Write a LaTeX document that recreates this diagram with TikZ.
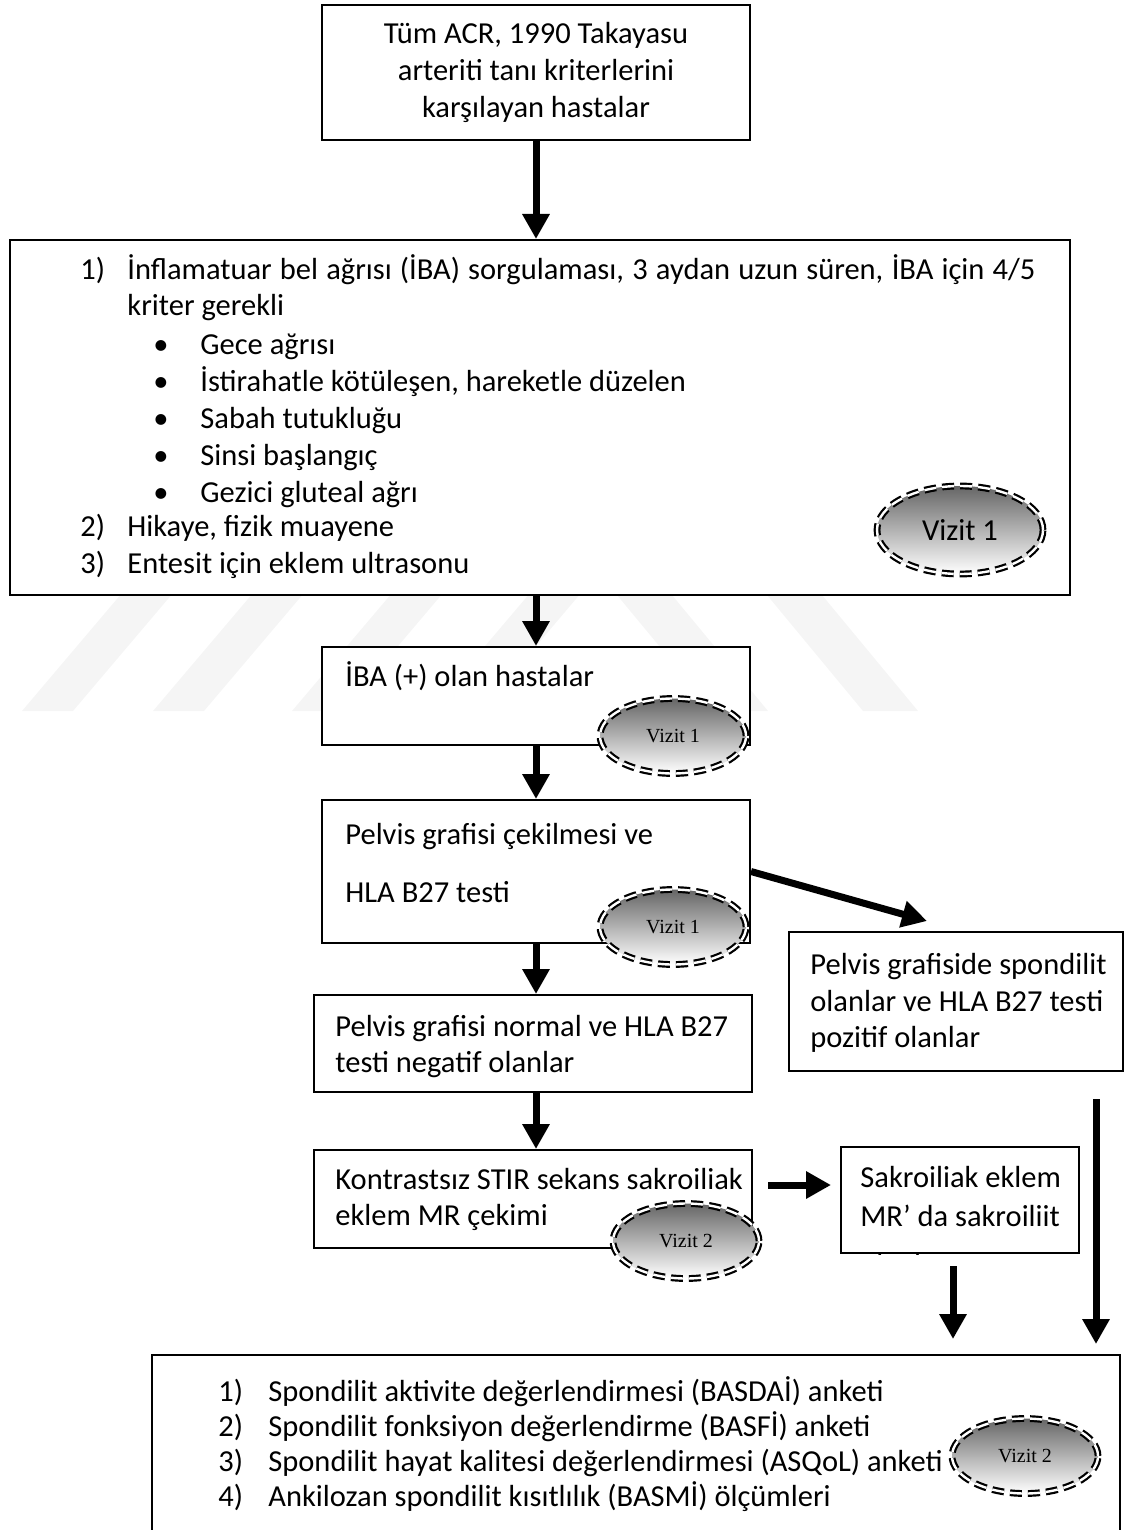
\documentclass[tikz,border=0pt]{standalone}
\usepackage{fontspec}
\setmainfont{Carlito}
\newfontfamily\timesfont{Liberation Serif}
\usetikzlibrary{arrows.meta,shapes.geometric}

\begin{document}
\begin{tikzpicture}[x=0.5pt,y=-0.5pt,
	font=\fontsize{15.25pt}{18.5pt}\selectfont,
	box/.style={draw,line width=1pt,fill=white,inner sep=0pt},
	txt/.style={anchor=base west,inner sep=0pt},
	bigarrow/.style={line width=3.5pt,-{Triangle[width=13pt,length=12.5pt]}},
	vizit/.style={ellipse,draw,double,double distance=1.2pt,line width=1.1pt,dash pattern=on 6pt off 3pt,
		top color=black!60,bottom color=white,inner sep=0pt,minimum width=73pt,minimum height=37.5pt,
		font=\timesfont\fontsize{10pt}{12pt}\selectfont}]
	\useasboundingbox (0,0) rectangle (1133,1530); % Fixes the page...

		% faint stripes behind the boxes
		\foreach \X in {22,153,292,430}{\fill[black!4] (\X,711) -- (\X+51,711) -- (\X+179,560) -- (\X+128,560) -- cycle;}
		\foreach \X in {713,863}{\fill[black!4] (\X,711) -- (\X+55,711) -- (\X-70,560) -- (\X-125,560) -- cycle;}

		\node[box,minimum width=214pt,minimum height=67.5pt,align=center] (TopBox) at (536,72.5) {Tüm ACR, 1990 Takayasu\\arteriti tanı kriterlerini\\karşılayan hastalar};
		\node[box,minimum width=530pt,minimum height=177.5pt] (CritBox) at (540,417.5) {};
		\node[box,minimum width=214pt,minimum height=49pt] (IbaBox) at (536,696) {};
		\node[box,minimum width=214pt,minimum height=71.5pt] (PelvisBox) at (536,871.5) {};
		\node[box,minimum width=167pt,minimum height=69.5pt] (SpondBox) at (956,1001.5) {};
		\node[box,minimum width=219pt,minimum height=48.5pt] (NormalBox) at (533,1043.5) {};
		\node[box,minimum width=219pt,minimum height=49pt] (MrBox) at (533,1199) {};
		\node[box,minimum width=119pt,minimum height=53pt] (SacroBox) at (960,1200) {};
		\node[box,minimum width=484pt,minimum height=95pt] (SurveyBox) at (636,1450) {};

		% criteria list
		\node[txt] (CritNo1) at (80,279) {1)};
		\node[txt] (Crit1) at (127,279) {\makebox[454pt][s]{İnflamatuar bel ağrısı (İBA) sorgulaması, 3 aydan uzun süren, İBA için 4/5}};
		\node[txt] (Crit1b) at (127,315) {kriter gerekli};
		\foreach \Item [count=\i] in {Gece ağrısı,{İstirahatle kötüleşen, hareketle düzelen},Sabah tutukluğu,Sinsi başlangıç,Gezici gluteal ağrı}{
			\node[txt] (Dot\i) at (153,317+37*\i) {\textbullet};
			\node[txt] (Sign\i) at (200,317+37*\i) {\Item};
		}
		\node[txt] (CritNo2) at (80,536) {2)};
		\node[txt] (Crit2) at (127,536) {Hikaye, fizik muayene};
		\node[txt] (CritNo3) at (80,573) {3)};
		\node[txt] (Crit3) at (127,573) {Entesit için eklem ultrasonu};

		% box texts
		\node[txt] (IbaText) at (345,686) {İBA (+) olan hastalar};
		\node[txt] (PelvisText1) at (345,844) {Pelvis grafisi çekilmesi ve};
		\node[txt] (PelvisText2) at (345,902) {HLA B27 testi};
		\node[txt] (SpondText1) at (810,974) {Pelvis grafiside spondilit};
		\node[txt] (SpondText2) at (810,1011) {olanlar ve HLA B27 testi};
		\node[txt] (SpondText3) at (810,1047) {pozitif olanlar};
		\node[txt] (NormalText1) at (335,1036) {Pelvis grafisi normal ve HLA B27};
		\node[txt] (NormalText2) at (335,1072) {testi negatif olanlar};
		\node[txt] (MrText1) at (335,1189) {Kontrastsız STIR sekans sakroiliak};
		\node[txt] (MrText2) at (335,1225) {eklem MR çekimi};
		\node[txt] (SacroText1) at (860,1187) {Sakroiliak eklem};
		\node[txt] (SacroText2) at (860,1226) {MR’ da sakroiliit};
		\begin{scope}
			\clip (SacroBox.north west) rectangle (SacroBox.south east);
			\node[txt] (SacroText3) at (860,1274) {olanlar};
		\end{scope}
		\foreach \Item [count=\i] in {Spondilit aktivite değerlendirmesi (BASDAİ) anketi,Spondilit fonksiyon değerlendirme (BASFİ) anketi,Spondilit hayat kalitesi değerlendirmesi (ASQoL) anketi,Ankilozan spondilit kısıtlılık (BASMİ) ölçümleri}{
			\node[txt] (SurveyNo\i) at (218,1366+35*\i) {\i)};
			\node[txt] (Survey\i) at (268,1366+35*\i) {\Item};
		}

		% visit marks
		\node[vizit,minimum width=83pt,minimum height=44pt,font=\fontsize{15.25pt}{18.5pt}\selectfont] (VizitCrit) at (960,530) {Vizit 1};
		\node[vizit] (VizitIba) at (673,736) {Vizit 1};
		\node[vizit] (VizitPelvis) at (673,927) {Vizit 1};
		\node[vizit] (VizitMr) at (686,1241) {Vizit 2};
		\node[vizit] (VizitSurvey) at (1025,1456) {Vizit 2};

		% arrows
		\draw[bigarrow] (TopBox.south) -- (TopBox.south |- CritBox.north);
		\draw[bigarrow] (IbaBox.north |- CritBox.south) -- (IbaBox.north);
		\draw[bigarrow] (IbaBox.south) -- (PelvisBox.north);
		\draw[bigarrow] (PelvisBox.south) -- (PelvisBox.south |- NormalBox.north);
		\draw[bigarrow] (PelvisBox.south |- NormalBox.south) -- (PelvisBox.south |- MrBox.north);
		\draw[bigarrow] (PelvisBox.east) -- ([xshift=-14.5pt,yshift=5pt]SpondBox.north);
		\draw[bigarrow,shorten <=7.5pt,shorten >=4.5pt] ([yshift=7pt]MrBox.east) -- ([yshift=7pt]MrBox.east -| SacroBox.west);
		\draw[bigarrow,shorten <=6pt,shorten >=7.5pt] ([xshift=-3.5pt]SacroBox.south) -- ([xshift=-3.5pt]SacroBox.south |- SurveyBox.north);
		\draw[bigarrow,shorten <=13.5pt,shorten >=5pt] ([xshift=70pt]SpondBox.south) -- ([xshift=70pt]SpondBox.south |- SurveyBox.north);
	\end{tikzpicture}
\end{document}
